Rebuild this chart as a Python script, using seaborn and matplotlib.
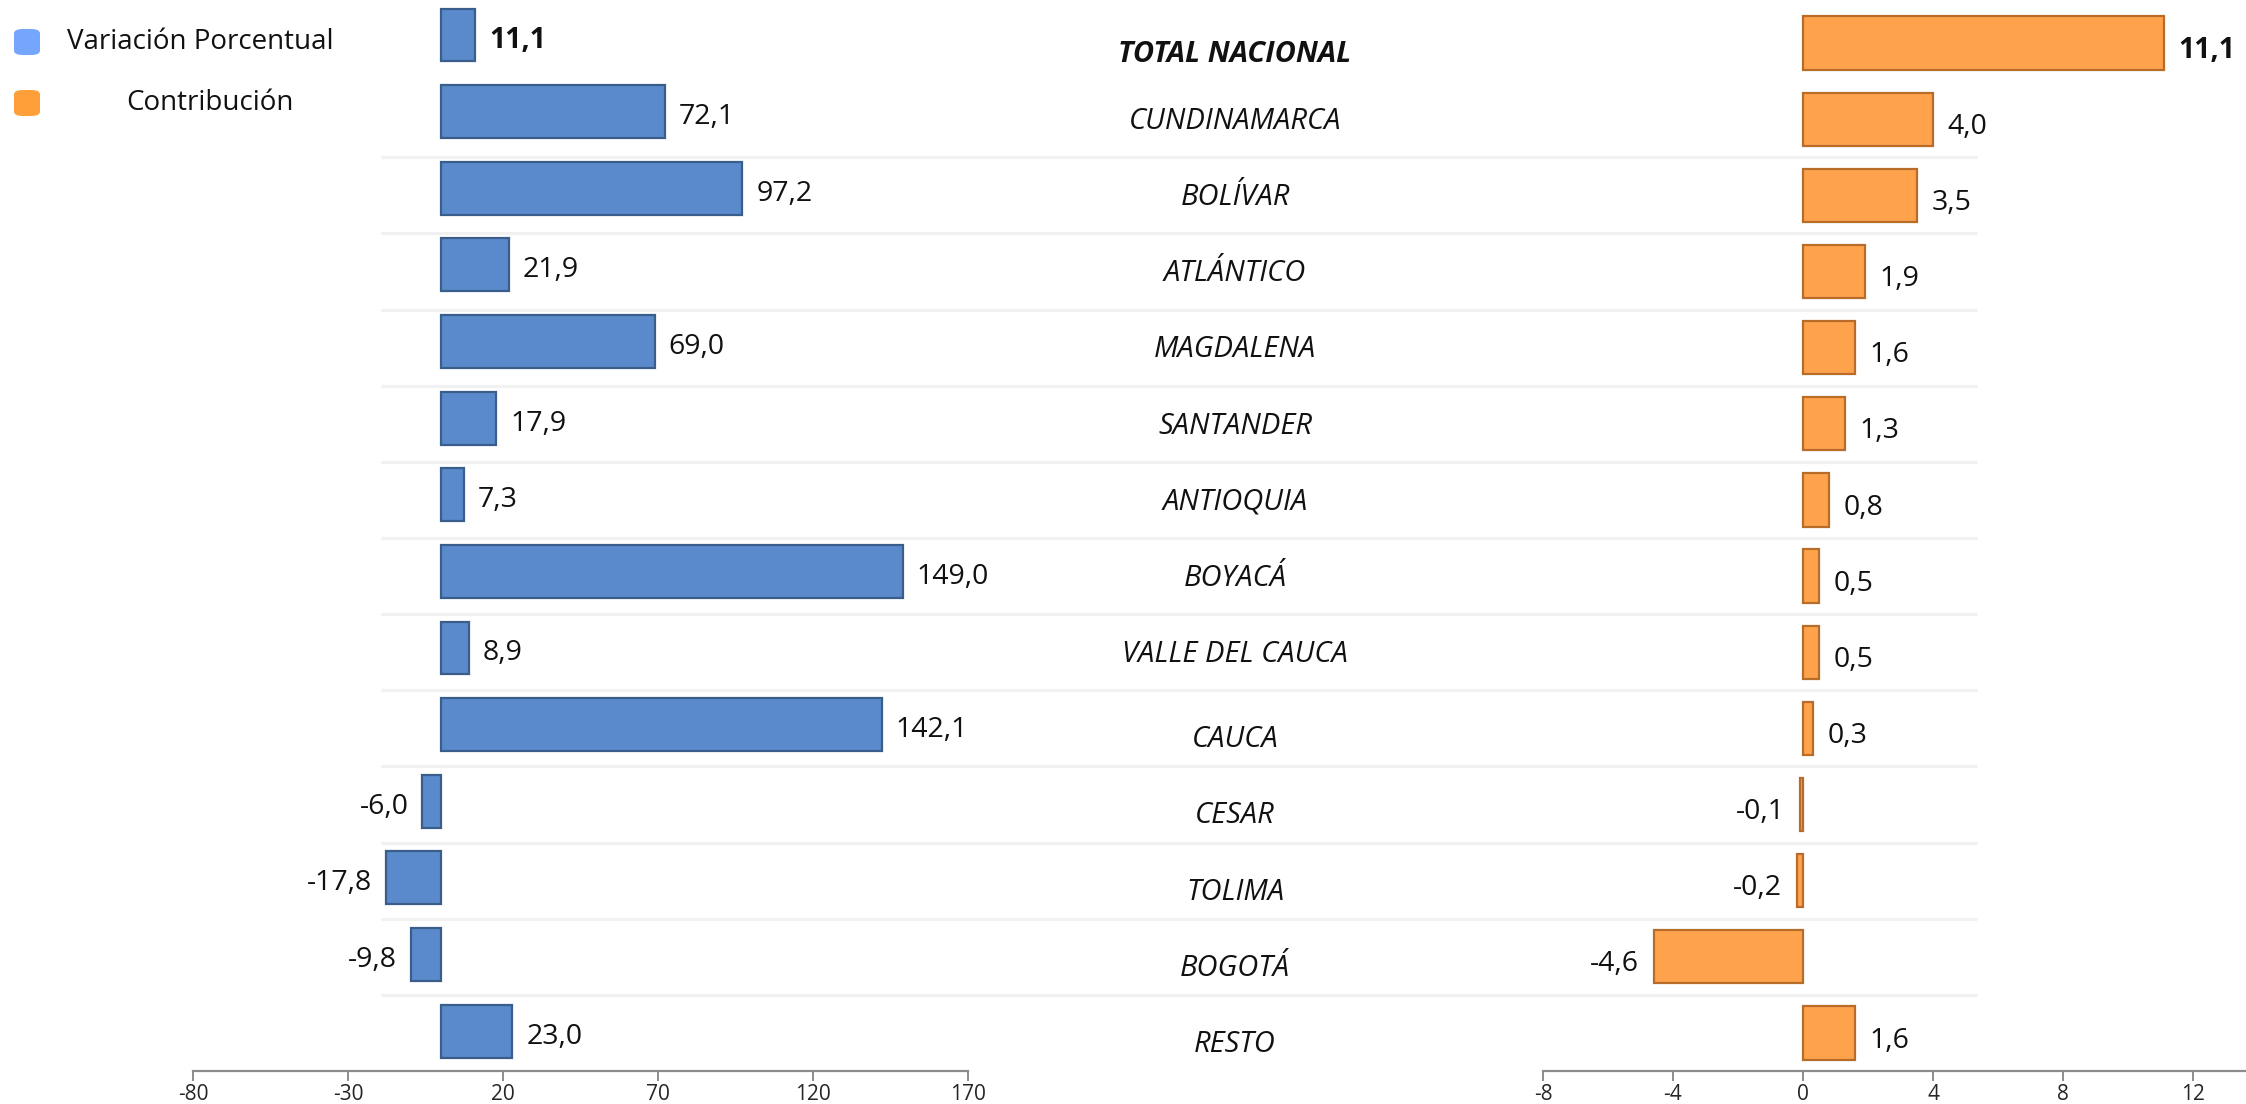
import matplotlib
matplotlib.use("Agg")
import matplotlib.pyplot as plt
import seaborn as sns
import pandas as pd
from matplotlib.patches import FancyBboxPatch
from matplotlib.font_manager import fontManager

categories = ["TOTAL NACIONAL", "CUNDINAMARCA", "BOLÍVAR", "ATLÁNTICO", "MAGDALENA",
              "SANTANDER", "ANTIOQUIA", "BOYACÁ", "VALLE DEL CAUCA", "CAUCA",
              "CESAR", "TOLIMA", "BOGOTÁ", "RESTO"]
variacion = [11.1, 72.1, 97.2, 21.9, 69.0, 17.9, 7.3, 149.0, 8.9, 142.1, -6.0, -17.8, -9.8, 23.0]
contribucion = [11.1, 4.0, 3.5, 1.9, 1.6, 1.3, 0.8, 0.5, 0.5, 0.3, -0.1, -0.2, -4.6, 1.6]
left_ticks = [-80, -30, 20, 70, 120, 170]
right_ticks = [-8, -4, 0, 4, 8, 12]
legend_labels = ["Variación Porcentual", "Contribución"]

sns.set_theme(style="white")
names = {f.name for f in fontManager.ttflist}
main_font = "Open Sans" if "Open Sans" in names else "DejaVu Sans"
narrow_font = "Liberation Sans Narrow" if "Liberation Sans Narrow" in names else main_font
plt.rcParams["font.family"] = [main_font, "DejaVu Sans"]

BLUE, BLUE_EDGE = "#5A8ACB", "#3A5E8C"
ORANGE, ORANGE_EDGE = "#FFA24C", "#B86C2A"

df = pd.DataFrame({"cat": categories, "var": variacion, "con": contribucion})

fig = plt.figure(figsize=(22.46, 11.04), dpi=100)

axL = fig.add_axes([193 / 2246, 1 - 1071 / 1104, 775 / 2246, 1071 / 1104], zorder=2)
axR = fig.add_axes([1543 / 2246, 1 - 1071 / 1104, 780 / 2246, 1071 / 1104], zorder=2)
for a in (axL, axR):
    a.patch.set_alpha(0)

sns.barplot(data=df, x="var", y="cat", orient="h", ax=axL, color=BLUE,
            width=0.69, edgecolor=BLUE_EDGE, linewidth=1.6, saturation=1)
sns.barplot(data=df, x="con", y="cat", orient="h", ax=axR, color=ORANGE,
            width=0.70, edgecolor=ORANGE_EDGE, linewidth=1.6, saturation=1)

axL.set_xlim(-80, 170)
axL.set_ylim(13.52, -0.457)
axR.set_xlim(-8, 16)
axR.set_ylim(13.5, -0.565)

for a, ticks in ((axL, left_ticks), (axR, right_ticks)):
    a.set_xticks(ticks)
    a.set_xticklabels([str(t) for t in ticks], fontsize=15, family=[narrow_font, "DejaVu Sans"])
    a.set_yticks([])
    a.set_xlabel("")
    a.set_ylabel("")
    for s in ("top", "left", "right"):
        a.spines[s].set_visible(False)
    a.spines["bottom"].set_color("#8C8C8C")
    a.spines["bottom"].set_linewidth(1.6)
    a.tick_params(axis="x", direction="out", length=7, width=1.4, color="#8C8C8C", pad=2,
                  bottom=True)

def fmt(v):
    return f"{v:.1f}".replace(".", ",")

# value labels
for i, v in enumerate(variacion):
    off = 4.5 if v >= 0 else -4.5
    axL.text(v + off, i + 0.07, fmt(v), ha="left" if v >= 0 else "right", va="center",
             fontsize=20.5, fontweight="bold" if i == 0 else "normal", color="#111111")
for i, v in enumerate(contribucion):
    off = 0.45 if v >= 0 else -0.45
    axR.text(v + off, i + 0.1, fmt(v), ha="left" if v >= 0 else "right", va="center",
             fontsize=20.5, fontweight="bold" if i == 0 else "normal", color="#111111")

# category labels in middle
trans = matplotlib.transforms.blended_transform_factory(fig.transFigure, axR.transData)
for i, c in enumerate(categories):
    dy = 0.15 if (i == 0 or i >= 9) else 0.03
    axR.text(1235 / 2246, i + dy, c, transform=trans, ha="center", va="center",
             fontsize=21, style="italic", fontweight="bold" if i == 0 else "normal",
             color="#111111")

# faint separators between rows
for i in range(1, 13):
    axR.plot([0.17, 0.88], [i + 0.5, i + 0.5], transform=trans, color="#F1F1F1",
             lw=2.2, zorder=0, clip_on=False)

# legend
for k, (lab, col, tx) in enumerate(zip(legend_labels, ["#74A6FE", "#FF9F3A"], [67, 126])):
    yc = 1 - (42 + 61 * k) / 1104
    box = FancyBboxPatch((14 / 2246, yc - 13 / 1104), 26 / 2246, 26 / 1104,
                         boxstyle="round,pad=0,rounding_size=0.004",
                         transform=fig.transFigure, facecolor=col, edgecolor="none")
    fig.patches.append(box)
    fig.text(tx / 2246, yc, lab, ha="left", va="center", fontsize=20, color="#111111")

fig.savefig("out.png", dpi=100)
